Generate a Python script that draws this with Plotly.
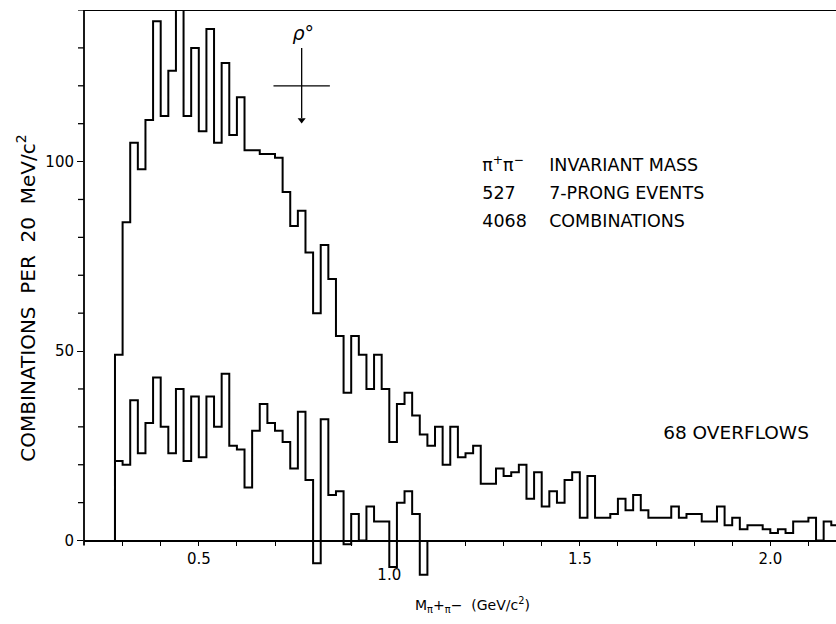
import plotly.graph_objects as go

# ---------------- data ----------------
BIN_START = 0.28      # GeV, lower edge of first bin
BIN_WIDTH = 0.02      # GeV (20 MeV bins)

upper_counts = [49, 84, 105, 98, 111, 137, 112, 124, 140, 112, 130, 108, 135, 105, 126, 107,
                117, 103, 103, 102, 102, 101, 92, 83, 87, 76, 60, 78, 69, 54, 39, 54, 49, 40,
                49, 40, 26, 36, 39, 33, 28, 25, 30, 20, 30, 22, 23, 25, 15, 15, 19, 17, 18, 20,
                11, 18, 9, 13, 10, 16, 18, 6, 17, 6, 6, 7, 11, 8, 12, 8, 6, 6, 6, 9, 6, 7, 7,
                5, 5, 9, 4, 6, 3, 4, 4, 3, 2, 3, 2, 5, 5, 6, 0, 5, 4]

lower_counts = [21, 20, 37, 23, 31, 43, 30, 23, 40, 21, 38, 22, 38, 30, 44, 25, 24, 14, 29,
                36, 31, 29, 26, 19, 34, 16, -6, 32, 12, 13, -1, 7, 0, 9, 5, 5, -7, 10, 13, 7, -9]

x_major_vals = [0.5, 1.5, 2.0]
x_major_text = ["0.5", "1.5", "2.0"]
x_minor_vals = [0.3, 0.4, 0.6, 0.7, 0.8, 0.9, 1.0, 1.1, 1.2, 1.3, 1.4, 1.6, 1.7, 1.8, 1.9, 2.1]
y_major_vals = [0, 50, 100]
y_major_text = ["0", "50", "100"]
y_minor_vals = [10, 20, 30, 40, 60, 70, 80, 90, 110, 120, 130, 140]

RHO_MASS = 0.77
RHO_HALF_WIDTH = 0.074


def step_xy(counts):
    edges = [BIN_START + i * BIN_WIDTH for i in range(len(counts) + 1)]
    xs = [edges[0]] + edges[:-1] + [edges[-1], edges[-1]]
    ys = [0] + list(counts) + [counts[-1], 0]
    return xs, ys


FONT = "DejaVu Sans"
fig = go.Figure()

for counts in (upper_counts, lower_counts):
    xs, ys = step_xy(counts)
    fig.add_trace(go.Scatter(x=xs, y=ys, mode="lines", line_shape="hv",
                             line=dict(color="black", width=2.0), showlegend=False,
                             hoverinfo="skip"))

# rho marker: vertical arrow shaft + head, width bar
fig.add_trace(go.Scatter(x=[RHO_MASS, RHO_MASS], y=[130, 111.5], mode="lines",
                         line=dict(color="black", width=1.3), showlegend=False,
                         hoverinfo="skip"))
fig.add_trace(go.Scatter(x=[RHO_MASS], y=[111.0], mode="markers",
                         marker=dict(symbol="triangle-down", size=7, color="black",
                                     line=dict(width=0)),
                         showlegend=False, hoverinfo="skip"))
fig.add_trace(go.Scatter(x=[RHO_MASS - RHO_HALF_WIDTH, RHO_MASS + RHO_HALF_WIDTH],
                         y=[120, 120], mode="lines", line=dict(color="black", width=1.3),
                         showlegend=False, hoverinfo="skip"))

# text labels drawn as a text trace
LEFT_COL = 1.244
RIGHT_COL = 1.4195
label_text = ["<i>ρ</i>°",
              "π<sup>+</sup>π<sup>−</sup>", "INVARIANT MASS",
              "527", "7-PRONG EVENTS",
              "4068", "COMBINATIONS",
              "68 OVERFLOWS",
              "1.0"]
label_x = [0.774, LEFT_COL, RIGHT_COL, LEFT_COL, RIGHT_COL, LEFT_COL, RIGHT_COL, 1.910, 1.0]
label_y = [133.3, 98.6, 98.6, 91.2, 91.2, 83.8, 83.8, 28.1, -9.4]
label_pos = ["middle center", "middle right", "middle right", "middle right", "middle right",
             "middle right", "middle right", "middle center", "middle center"]
label_size = [19, 17.5, 17.5, 17.5, 17.5, 17.5, 17.5, 18.5, 15]

fig.add_trace(go.Scatter(x=label_x, y=label_y, mode="text", text=label_text,
                         textposition=label_pos,
                         textfont=dict(family=FONT, size=label_size, color="black"),
                         cliponaxis=False, showlegend=False, hoverinfo="skip"))

Y_LOW = -12
Y_HIGH = 140
fig.update_layout(
    width=836, height=624,
    margin=dict(l=84, r=0, t=10, b=38),
    paper_bgcolor="white", plot_bgcolor="white",
    font=dict(family=FONT, color="black", size=14),
    xaxis=dict(range=[0.1987, 2.1724], anchor="free", position=(0 - Y_LOW) / (Y_HIGH - Y_LOW),
               showline=True, linecolor="black", linewidth=1.6,
               ticks="outside", ticklen=5, tickwidth=1.3, tickcolor="black",
               tickmode="array", tickvals=x_major_vals, ticktext=x_major_text,
               tickfont=dict(size=15),
               minor=dict(tickmode="array", tickvals=x_minor_vals, ticks="outside",
                          ticklen=5, tickwidth=1.3, tickcolor="black", showgrid=False),
               showgrid=False, zeroline=False),
    yaxis=dict(range=[Y_LOW, Y_HIGH], domain=[0, 1], showline=False,
               ticks="outside", ticklen=6, tickwidth=1.3, tickcolor="black",
               tickmode="array", tickvals=y_major_vals, ticktext=y_major_text,
               tickfont=dict(size=15),
               title=dict(text="COMBINATIONS  PER  20  MeV/c<sup>2</sup>",
                          font=dict(size=20, family=FONT), standoff=4),
               automargin=False,
               showgrid=False, zeroline=False),
)

# x-axis title
fig.add_annotation(x=0.516, y=-0.054, xref="paper", yref="paper",
                   text="M<sub>π</sub>+<sub>π</sub>−  (GeV/c<sup>2</sup>)",
                   showarrow=False, font=dict(size=14, family=FONT))

# frame: y-axis line and top border
fig.add_shape(type="line", xref="paper", yref="y", x0=0, x1=0, y0=-1.3, y1=Y_HIGH,
              line=dict(color="black", width=1.8))
fig.add_shape(type="line", xref="paper", yref="y", x0=0, x1=1, y0=Y_HIGH, y1=Y_HIGH,
              line=dict(color="black", width=1.8))
# minor y ticks
for v in y_minor_vals:
    fig.add_shape(type="line", xref="paper", yref="y", x0=-6 / 752, x1=0, y0=v, y1=v,
                  line=dict(color="black", width=1.3))

fig.write_html("out.html", config={"displayModeBar": False},
               post_script="document.body.style.margin='0';"
                           "document.body.style.overflow='hidden';")
